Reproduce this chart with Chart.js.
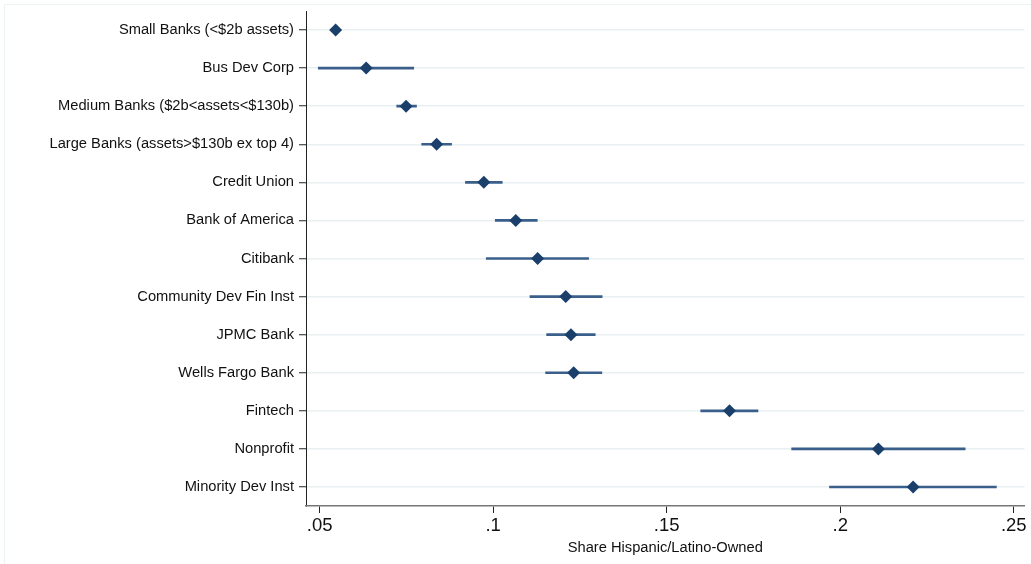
<!DOCTYPE html>
<html>
<head>
<meta charset="utf-8">
<script src="https://cdn.jsdelivr.net/npm/chart.js@4/dist/chart.umd.min.js"></script>
<style>
  html, body { margin: 0; padding: 0; background: #fff; }
  #wrap { width: 1031px; height: 564px; position: relative; }
</style>
</head>
<body>
<div id="wrap"><canvas id="shareChart"></canvas></div>
<script>
// lender types, top to bottom
const lenders = [
    'Small Banks (<$2b assets)',
    'Bus Dev Corp',
    'Medium Banks ($2b<assets<$130b)',
    'Large Banks (assets>$130b ex top 4)',
    'Credit Union',
    'Bank of America',
    'Citibank',
    'Community Dev Fin Inst',
    'JPMC Bank',
    'Wells Fargo Bank',
    'Fintech',
    'Nonprofit',
    'Minority Dev Inst'
];

// point estimate of the share
const shareEst = [0.0546, 0.0634, 0.0749, 0.0837, 0.0973, 0.1065, 0.1128, 0.1209, 0.1224, 0.1232, 0.1681, 0.2110, 0.2210];

// confidence interval bounds
const ciLow  = [0.0542, 0.0496, 0.0722, 0.0794, 0.0920, 0.1006, 0.0980, 0.1106, 0.1154, 0.1151, 0.1598, 0.1860, 0.1969];
const ciHigh = [0.0550, 0.0771, 0.0779, 0.0880, 0.1026, 0.1127, 0.1275, 0.1314, 0.1294, 0.1313, 0.1763, 0.2360, 0.2450];

// x axis ticks
const xTicks = [0.05, 0.10, 0.15, 0.20, 0.25];

const navy = '#1a3f6b';
const barColor = '#3a5f8a';
const gridColor = '#e8f0f2';

// faint outline of the whole graph region
const outline = {
    id: 'outline',
    beforeDraw(chart) {
        const c = chart.ctx;
        c.save();
        c.strokeStyle = '#edf3f4';
        c.lineWidth = 1;
        c.strokeRect(4.5, 4.5, chart.width + 10, chart.height + 10);
        c.restore();
    }
};

const ctx = document.getElementById('shareChart');
new Chart(ctx, {
    type: 'bar',
    data: {
        labels: lenders,
        datasets: [
            {
                type: 'line',
                indexAxis: 'y',
                data: shareEst,
                showLine: false,
                pointStyle: 'rectRot',
                pointRadius: 6.5,
                pointBorderWidth: 0,
                pointBackgroundColor: navy,
                pointBorderColor: navy,
                order: 0
            },
            {
                type: 'bar',
                indexAxis: 'y',
                data: lenders.map((_, i) => [ciLow[i], ciHigh[i]]),
                backgroundColor: barColor,
                borderWidth: 0,
                barThickness: 2,
                order: 1
            }
        ]
    },
    options: {
        indexAxis: 'y',
        responsive: true,
        maintainAspectRatio: false,
        animation: false,
        layout: { padding: { top: 11, right: 5, left: 0, bottom: 0 } },
        plugins: {
            legend: { display: false },
            tooltip: { enabled: false }
        },
        scales: {
            y: {
                type: 'category',
                offset: true,
                grid: {
                    offset: false,
                    color: gridColor,
                    lineWidth: 1.5,
                    tickColor: '#222',
                    tickLength: 7,
                    tickWidth: 1
                },
                border: { color: '#222', width: 1 },
                ticks: {
                    padding: 5,
                    color: '#111',
                    font: { family: 'Liberation Sans, Arial, Helvetica', size: 14.7 }
                },
                afterFit(scale) {
                    scale.width = 306;
                    scale.paddingTop = 0;
                    scale.paddingBottom = 0;
                }
            },
            x: {
                type: 'linear',
                min: 0.04606,
                max: 0.2531,
                grid: {
                    drawOnChartArea: false,
                    tickColor: '#222',
                    tickLength: 7,
                    tickWidth: 1
                },
                border: { color: '#777', width: 1.5 },
                afterBuildTicks(scale) {
                    scale.ticks = xTicks.map(v => ({ value: v }));
                },
                ticks: {
                    padding: 2,
                    color: '#111',
                    font: { family: 'Liberation Sans, Arial, Helvetica', size: 18.5 },
                    callback: v => String(Math.round(v * 100) / 100).replace(/^0/, '')
                },
                title: {
                    display: true,
                    text: 'Share Hispanic/Latino-Owned',
                    color: '#111',
                    padding: { top: 0, bottom: 7 },
                    font: { family: 'Liberation Sans, Arial, Helvetica', size: 14.7 }
                },
                afterFit(scale) { scale.height = 58; }
            }
        }
    },
    plugins: [outline]
});
</script>
</body>
</html>
